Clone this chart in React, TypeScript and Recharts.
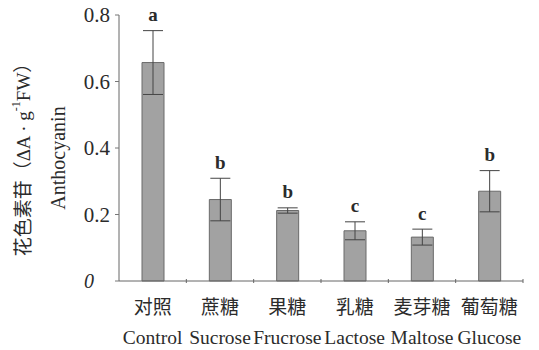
import React from 'react';
import { BarChart, Bar, XAxis, YAxis, ErrorBar, LabelList } from 'recharts';

const categoriesZh = ['对照', '蔗糖', '果糖', '乳糖', '麦芽糖', '葡萄糖'];
const categoriesEn = ['Control', 'Sucrose', 'Frucrose', 'Lactose', 'Maltose', 'Glucose'];
const means = [0.657, 0.245, 0.212, 0.151, 0.132, 0.27];
const errors = [0.096, 0.064, 0.008, 0.027, 0.024, 0.062];
const letters = ['a', 'b', 'b', 'c', 'c', 'b'];
const yTicks = [0, 0.2, 0.4, 0.6, 0.8];

const data = categoriesEn.map((en, i) => ({
  name: en,
  zh: categoriesZh[i],
  value: means[i],
  err: errors[i],
  letter: letters[i],
}));

const Y_AXIS_W = 119;
const serif = '"Liberation Serif", "Times New Roman", serif';
const cjk = '"Liberation Serif", "Noto Sans CJK SC", serif';
const ink = '#2b2b2b';

function CategoryTick(props: any) {
  const { x, y, index } = props;
  // small upward tick at the right edge of each category band
  const half = (x - Y_AXIS_W) / (index + 0.5) / 2;
  return (
    <g>
      <line x1={x + half} x2={x + half} y1={y} y2={y - 4} stroke="#666" strokeWidth={1} />
      <text x={x} y={y + 31} textAnchor="middle" fontFamily={cjk} fontSize={19} fill={ink}>
        {categoriesZh[index]}
      </text>
      <text x={x} y={y + 61} textAnchor="middle" fontFamily={serif} fontSize={19.5} fill={ink}>
        {categoriesEn[index]}
      </text>
    </g>
  );
}

function ValueTick(props: any) {
  const { x, y, payload } = props;
  if (payload.value === 0) {
    return (
      <text x={x - 29} y={y + 7} textAnchor="start" fontFamily={serif} fontStyle="italic" fontSize={20} fill={ink}>
        0
      </text>
    );
  }
  return (
    <text x={x - 3} y={y + 7} textAnchor="end" fontFamily={serif} fontSize={21} fill={ink}>
      {payload.value.toFixed(1)}
    </text>
  );
}

function YTitle(props: any) {
  const { viewBox } = props;
  const cy = viewBox.y + viewBox.height / 2;
  const x1 = viewBox.x + 23;
  const x2 = viewBox.x + 58;
  return (
    <g>
      <text
        x={x1}
        y={cy + 7}
        transform={`rotate(-90 ${x1} ${cy + 7})`}
        textAnchor="middle"
        dominantBaseline="central"
        fontFamily={cjk}
        fontSize={19}
        fill={ink}
      >
        花色素苷（ΔA · g<tspan fontSize={12} dy={-7}>-1</tspan>
        <tspan dy={7}>FW）</tspan>
      </text>
      <text
        x={x2}
        y={cy + 10}
        transform={`rotate(-90 ${x2} ${cy + 10})`}
        textAnchor="middle"
        dominantBaseline="central"
        fontFamily={serif}
        fontSize={20}
        fill={ink}
      >
        Anthocyanin
      </text>
    </g>
  );
}

function LetterLabel(props: any) {
  const { x, y, width, height, index } = props;
  const d = data[index];
  const errPx = (d.err / d.value) * height;
  return (
    <text
      x={x + width / 2}
      y={y - errPx - 16}
      textAnchor="middle"
      dominantBaseline="central"
      fontFamily={serif}
      fontWeight="bold"
      fontSize={19}
      fill={ink}
    >
      {d.letter}
    </text>
  );
}

export default function App() {
  return (
    <div style={{ width: 539, height: 350, background: '#fff' }}>
      <style>{'body{margin:0}'}</style>
      <BarChart width={539} height={350} data={data} margin={{ top: 15, right: 16, bottom: 0, left: 0 }}>
        <XAxis
          dataKey="name"
          height={69}
          interval={0}
          tickLine={false}
          tickSize={0}
          axisLine={{ stroke: '#666' }}
          tick={<CategoryTick />}
        />
        <YAxis
          width={Y_AXIS_W}
          domain={[0, 0.8]}
          ticks={yTicks}
          interval={0}
          tickSize={4}
          tickLine={{ stroke: '#777' }}
          axisLine={{ stroke: '#666' }}
          tick={<ValueTick />}
          label={<YTitle />}
        />
        <Bar dataKey="value" barSize={22} fill="#a2a2a2" stroke="#6a6a6a" strokeWidth={1} isAnimationActive={false}>
          <ErrorBar dataKey="err" width={10} stroke="#444" strokeWidth={1} direction="y" />
          <LabelList dataKey="letter" content={<LetterLabel />} />
        </Bar>
      </BarChart>
    </div>
  );
}
